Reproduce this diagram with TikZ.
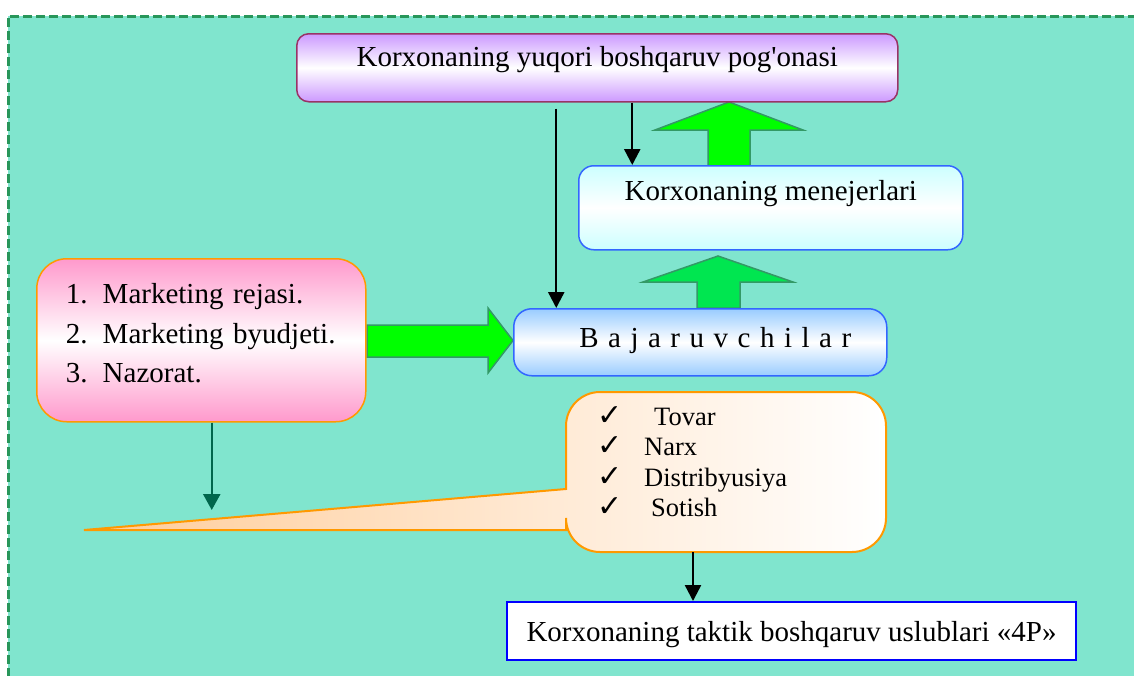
\documentclass[tikz,border=0pt]{standalone}
\usepackage{fontspec}
\newfontfamily\diagfont{Liberation Serif}
\newfontfamily\symfont{DejaVu Sans}
\usetikzlibrary{arrows.meta}

\definecolor{sea}{RGB}{128,229,206}
\definecolor{seaedge}{RGB}{40,150,90}
\definecolor{lilac}{RGB}{204,153,255}
\definecolor{plum}{RGB}{153,51,102}
\definecolor{icecyan}{RGB}{204,255,255}
\definecolor{skyblue}{RGB}{153,204,255}
\definecolor{royal}{RGB}{51,102,255}
\definecolor{rosepink}{RGB}{255,153,204}
\definecolor{amber}{RGB}{255,153,0}
\definecolor{peach}{RGB}{255,204,153}
\definecolor{lime}{RGB}{0,255,0}
\definecolor{limedark}{RGB}{0,230,80}
\definecolor{fatedge}{RGB}{51,153,102}
\definecolor{pine}{RGB}{0,102,76}

\newcommand\tick{\makebox[47pt][l]{\symfont\fontsize{30}{30}\selectfont ✓}}

\begin{document}
\begin{tikzpicture}[x=1pt,y=-1pt,
   every node/.style={font=\diagfont\fontsize{29}{39.5}\selectfont,inner sep=0pt},
   box/.style={draw,line width=1.5pt,anchor=north west},
   fatarrow/.style={fill=lime,draw=fatedge,line width=1.5pt},
   conn/.style={line width=2.4pt,-{Triangle[width=16pt,length=16pt]}}]
   \useasboundingbox (0,0) rectangle (1134,675);
   \clip (0,0) rectangle (1134,675);
   % sheet
   \fill[sea] (8,16) rectangle (1140,690);
   \draw[seaedge,line width=3pt,dash pattern=on 9pt off 4pt] (8,690) -- (8,16) -- (1140,16);
   % 4P callout
   \draw[amber,line width=2pt,left color=peach,right color=white]
      (566,489) [rounded corners=34pt] -- (566,392) -- (886,392) -- (886,552) -- (566,552)
      [sharp corners] -- (566,530) -- (84,530) -- cycle;
   \coordinate (mixfoot) at (693,552);
   % fat arrows
   \draw[fatarrow] (367,325) -- (488,325) -- (488,308) -- (513,340.5) -- (488,373) -- (488,357) -- (367,357) -- cycle;
   \draw[fatarrow] (708,166) -- (708,130) -- (655,130) -- (729,102) -- (803,130) -- (750,130) -- (750,166) -- cycle;
   \draw[fatarrow,fill=limedark] (697,308) -- (697,282) -- (643,282) -- (718,256) -- (793,282) -- (740,282) -- (740,308) -- cycle;

   \node[box,draw=plum,rounded corners=12pt,top color=lilac,bottom color=lilac,middle color=white,
         minimum width=601pt,text height=33pt,text depth=35pt] (toplevel) at (296,33)
         {Korxonaning yuqori boshqaruv pog'onasi};
   \node[box,draw=royal,rounded corners=15pt,top color=icecyan,bottom color=icecyan,middle color=white,
         minimum width=384pt,text height=35pt,text depth=49pt] (managers) at (578,165)
         {Korxonaning menejerlari};
   \node[box,draw=royal,rounded corners=18pt,top color=skyblue,bottom color=skyblue,middle color=white,
         minimum width=373pt,text height=39pt,text depth=28pt] (executors) at (513,308)
         {\hspace*{30pt}{\spaceskip=9.5pt B a j a r u v c h i l a r}};
   \node[box,draw=amber,rounded corners=30pt,top color=rosepink,bottom color=rosepink,middle color=white,
         text width=271pt,align=left,inner xsep=29pt,text height=45pt,text depth=118pt] (plan) at (36,258)
         {\makebox[37pt][l]{1.}Marketing rejasi.\\
          \makebox[37pt][l]{2.}Marketing byudjeti.\\
          \makebox[37pt][l]{3.}Nazorat.};
   \node[anchor=north west,text width=280pt,align=left,text height=33pt,
         font=\diagfont\fontsize{26.5}{30.5}\selectfont] (mix) at (597,392)
         {\tick\hspace*{10pt}Tovar\\
          \tick Narx\\
          \tick Distribyusiya\\
          \tick\hspace*{7pt}Sotish};
   \node[box,draw=blue,line width=2pt,fill=white,minimum width=569pt,
         text height=39pt,text depth=19pt] (tactics) at (506,601)
         {Korxonaning taktik boshqaruv uslublari «4P»};

   % connectors
   \coordinate (dropA) at ([xshift=-41pt,yshift=-6pt]toplevel.south);
   \coordinate (dropB) at ([xshift=35pt]toplevel.south);
   \coordinate (planfoot) at ([xshift=10.5pt]plan.south);
   \coordinate (pinetip) at (0,510);
   \draw[conn] (dropA) -- (dropA |- executors.north);
   \draw[conn] (dropB) -- (dropB |- managers.north);
   \draw[conn] (mixfoot) -- (mixfoot |- tactics.north);
   \draw[conn,pine,-{Triangle[width=17pt,length=16pt]}] (planfoot) -- (planfoot |- pinetip);
\end{tikzpicture}
\end{document}
